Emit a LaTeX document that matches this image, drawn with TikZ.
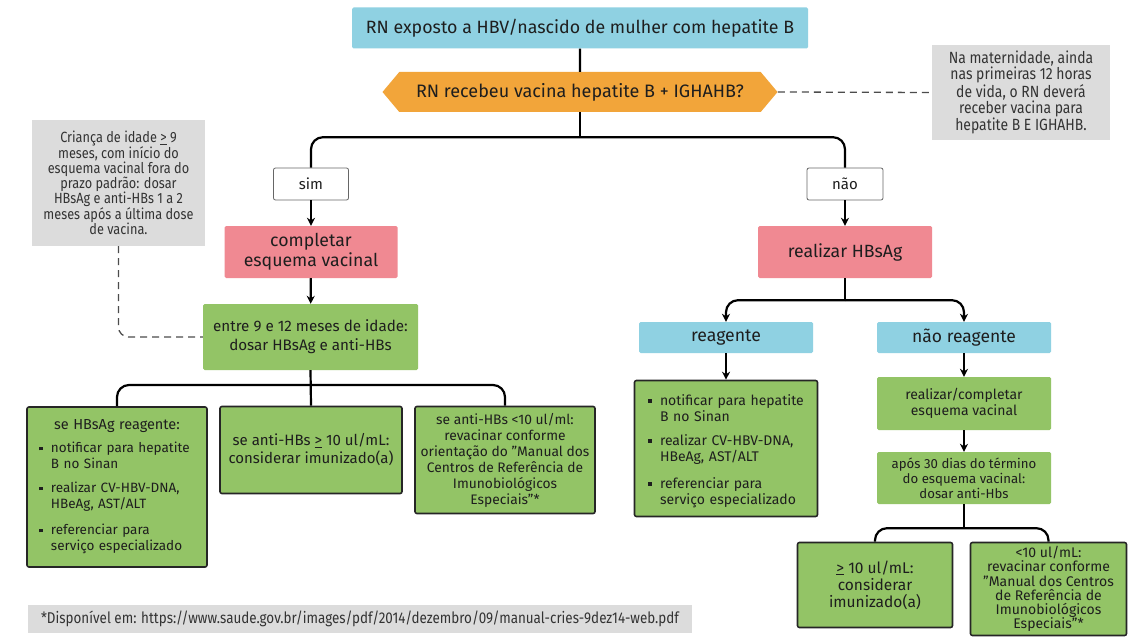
\documentclass[tikz,border=0pt]{standalone}
\usepackage{fontspec}
\setmainfont{Fira Sans}
\newfontfamily\narrowfont[FakeStretch=0.86]{Fira Sans}
\usetikzlibrary{shapes.symbols,arrows.meta}
\definecolor{cblue}{RGB}{143,209,226}
\definecolor{corange}{RGB}{242,165,58}
\definecolor{cpink}{RGB}{240,137,146}
\definecolor{cgreen}{RGB}{147,196,102}
\definecolor{cgray}{RGB}{220,220,220}
\definecolor{ctext}{RGB}{30,30,30}
\newcommand{\fsz}[2]{\fontsize{#1}{#2}\selectfont}
\newcommand{\mygeq}{\underline{>}}
\newcommand{\bitem}[1]{\par\noindent\hspace*{5pt}\makebox[12pt][l]{\rule[2.5pt]{3.5pt}{3.5pt}}\parbox[t]{150pt}{\raggedright #1}\par}
\tikzset{
  base/.style={inner sep=2pt, align=center, text=ctext},
  bluebox/.style={base, fill=cblue, rounded corners=1.5pt},
  pinkbox/.style={base, fill=cpink, rounded corners=1.5pt},
  greenbox/.style={base, fill=cgreen, rounded corners=1.5pt},
  outbox/.style={base, fill=cgreen, draw=black!85, line width=1.6pt, rounded corners=2pt},
  graybox/.style={base, fill=cgray, text=black!80},
  answer/.style={base, fill=white, draw=black!60, line width=0.8pt, rounded corners=2pt},
  hexa/.style={base, fill=corange, signal, signal to=west and east, signal pointer angle=100},
  conn/.style={line width=2.2pt, black, rounded corners=12pt},
  arr/.style={conn, -{Stealth[length=8pt,width=8pt]}},
  dashconn/.style={dash pattern=on 7pt off 5pt, line width=1.3pt, black!70, rounded corners=10pt},
}
\begin{document}
\begin{tikzpicture}[x=1pt,y=-1pt]
\useasboundingbox[fill=white] (0,0) rectangle (1132,639);

% top
\node[bluebox, minimum width=456, minimum height=41, font=\fsz{17.8}{20}] (top) at (580,28)
  {RN exposto a HBV/nascido de mulher com hepatite B};
\node[hexa, minimum width=395, minimum height=40, font=\fsz{18}{20}] (q) at (580,92)
  {RN recebeu vacina hepatite B + IGHAHB?};
\node[graybox, minimum width=178, minimum height=95, font=\narrowfont\fsz{16.2}{13}] (noteR) at (1021,92.5)
  {Na maternidade, ainda\\nas primeiras 12 horas\\de vida, o RN deverá\\receber vacina para\\hepatite B E IGHAHB.};

% answers
\node[answer, minimum width=75, minimum height=32, font=\fsz{15}{18}] (sim) at (311,184) {sim};
\node[answer, minimum width=76, minimum height=32, font=\fsz{15}{18}] (nao) at (845,184) {não};

% left branch
\node[graybox, minimum width=173, minimum height=126, font=\narrowfont\fsz{14.8}{15}] (noteL) at (118.5,183)
  {Criança de idade \mygeq{} 9\\meses, com início do\\esquema vacinal fora do\\prazo padrão: dosar\\HBsAg e anti-HBs 1 a 2\\meses após a última dose\\de vacina.};
\node[pinkbox, minimum width=173, minimum height=52, font=\fsz{17.7}{20}] (comp) at (311,252)
  {completar\\esquema vacinal};
\node[greenbox, minimum width=215, minimum height=66, font=\fsz{15.2}{19}] (entre) at (310.5,337)
  {entre 9 e 12 meses de idade:\\dosar HBsAg e anti-HBs};

\node[outbox, minimum width=180, minimum height=160, text width=166, align=left, font=\fsz{13.5}{16}] (b1) at (117,487)
  {\centerline{\fontsize{14.5}{16}\selectfont se HBsAg reagente:}\par\vspace{7pt}
   \bitem{notificar para hepatite\\B no Sinan}\vspace{12pt}
   \bitem{realizar CV-HBV-DNA,\\HBeAg, AST/ALT}\vspace{12pt}
   \bitem{referenciar para\\serviço especializado}};
\node[outbox, minimum width=182, minimum height=87, font=\fsz{15}{18}] (b2) at (311,450)
  {se anti-HBs \mygeq{} 10 ul/mL:\\considerar imunizado(a)};
\node[outbox, minimum width=180, minimum height=107, font=\fsz{13.8}{16}] (b3) at (505,460)
  {se anti-HBs <10 ul/ml:\\revacinar conforme\\orientação do "Manual dos\\Centros de Referência de\\Imunobiológicos\\Especiais"*};

% right branch
\node[pinkbox, minimum width=174, minimum height=52, font=\fsz{17.7}{20}] (hbs) at (845,252)
  {realizar HBsAg};
\node[bluebox, minimum width=174, minimum height=31, font=\fsz{17.7}{20}] (rea) at (726,337.5)
  {reagente};
\node[bluebox, minimum width=174, minimum height=31, font=\fsz{17.5}{20}] (nrea) at (964,337.5)
  {não reagente};
\node[outbox, minimum width=183, minimum height=136, text width=166, align=left, font=\fsz{14}{16}] (b4) at (726,448.5)
  {\bitem{notificar para hepatite\\B no Sinan}\vspace{12pt}
   \bitem{realizar CV-HBV-DNA,\\HBeAg, AST/ALT}\vspace{12pt}
   \bitem{referenciar para\\serviço especializado}};
\node[greenbox, minimum width=174, minimum height=53, font=\fsz{14}{16}] (rc) at (964,403.5)
  {realizar/completar\\esquema vacinal};
\node[greenbox, minimum width=174, minimum height=52, font=\fsz{13.2}{15}] (apos) at (964,478)
  {após 30 dias do término\\do esquema vacinal:\\dosar anti-Hbs};
\node[outbox, minimum width=155, minimum height=85, font=\fsz{15.5}{17}] (b5) at (875,585)
  {\mygeq{} 10 ul/mL:\\considerar\\imunizado(a)};
\node[outbox, minimum width=156, minimum height=93, font=\fsz{14}{14.3}] (b6) at (1048.5,589)
  {<10 ul/mL:\\revacinar conforme\\"Manual dos Centros\\de Referência de\\Imunobiológicos\\Especiais"*};

% footnote
\node[graybox, minimum width=664, minimum height=28, font=\narrowfont\fsz{15.6}{17}] (foot) at (360,619)
  {*Disponível em: https://www.saude.gov.br/images/pdf/2014/dezembro/09/manual-cries-9dez14-web.pdf};

% connectors
\draw[conn] (top) -- (q);
\draw[dashconn] (q.east) -- (noteR.west);
\draw[conn] (q.south) -- ++(0,25) coordinate (j1);
\draw[conn] (sim.north) |- (j1) -| (nao.north);
\draw[arr] (sim) -- (comp);
\draw[arr] (comp) -- (entre);
\draw[dashconn] (noteL.south) |- (entre.west);
\draw[conn] (entre.south) -- (b2.north);
\coordinate (j2) at (311,385);
\draw[conn] (b1.north) |- (j2) -| (b3.north);
\draw[arr] (nao) -- (hbs);
\draw[conn] (hbs.south) -- ++(0,22) coordinate (j3);
\draw[arr] (j3) -| (rea.north);
\draw[arr] (j3) -| (nrea.north);
\draw[arr] (rea) -- (b4);
\draw[arr] (nrea) -- (rc);
\draw[arr] (rc) -- (apos);
\draw[conn] (apos.south) -- ++(0,24) coordinate (j4);
\draw[conn] (b5.north) |- (j4) -| (b6.north);
\end{tikzpicture}
\end{document}
